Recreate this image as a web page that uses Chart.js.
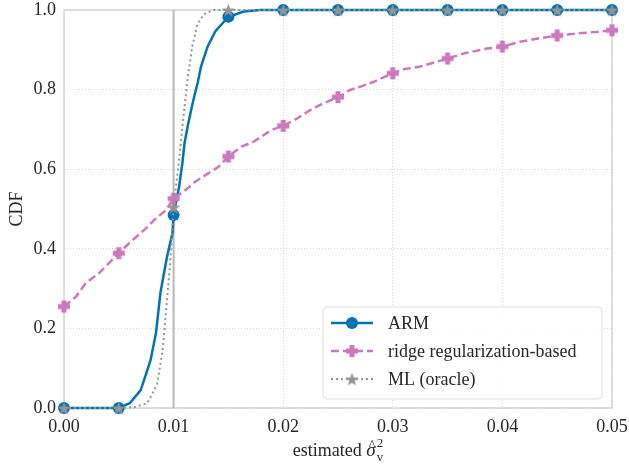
<!DOCTYPE html>
<html lang="en">
<head>
<meta charset="UTF-8">
<title>CDF</title>
<script src="https://cdn.jsdelivr.net/npm/chart.js@4.4.0/dist/chart.umd.min.js"></script>
<style>
  body { margin: 0; background: #fff; }
</style>
</head>
<body>
<canvas id="chart" width="629" height="465"></canvas>
<script>
// ARM estimates (CDF)
const armX = [0, 0.005, 0.006, 0.007, 0.0079, 0.0084, 0.0088, 0.0094, 0.0099, 0.01, 0.0105, 0.0108, 0.011, 0.0113, 0.0116, 0.0119, 0.0122, 0.0125, 0.0131, 0.0138, 0.015, 0.0164, 0.0179, 0.02, 0.025, 0.03, 0.035, 0.04, 0.045, 0.05]
const armY = [0, 0, 0.012, 0.045, 0.12, 0.19, 0.29, 0.38, 0.44, 0.485, 0.556, 0.615, 0.666, 0.71, 0.749, 0.785, 0.817, 0.858, 0.908, 0.946, 0.983, 0.996, 1, 1, 1, 1, 1, 1, 1, 1]

// ridge regularization-based
const ridgeX = [0, 0.0011, 0.002, 0.0032, 0.0041, 0.005, 0.00625, 0.0075, 0.0084, 0.0093, 0.01, 0.0111, 0.012, 0.0129, 0.0141, 0.015, 0.0162, 0.0173, 0.0189, 0.02, 0.0213, 0.0225, 0.0237, 0.025, 0.0261, 0.027, 0.0283, 0.03, 0.031, 0.0325, 0.035, 0.0365, 0.0386, 0.04, 0.0416, 0.0434, 0.045, 0.0468, 0.0486, 0.05]
const ridgeY = [0.255, 0.28, 0.314, 0.339, 0.364, 0.389, 0.422, 0.452, 0.477, 0.497, 0.526, 0.548, 0.569, 0.585, 0.606, 0.632, 0.657, 0.669, 0.698, 0.709, 0.728, 0.749, 0.766, 0.781, 0.799, 0.807, 0.82, 0.841, 0.851, 0.858, 0.878, 0.891, 0.903, 0.908, 0.92, 0.929, 0.936, 0.941, 0.945, 0.949]

// ML (oracle)
const mlX = [0, 0.005, 0.0064, 0.0076, 0.0085, 0.009, 0.0094, 0.0097, 0.01, 0.0105, 0.0108, 0.0113, 0.0117, 0.0122, 0.0128, 0.0137, 0.015, 0.02, 0.025, 0.03, 0.035, 0.04, 0.045, 0.05]
const mlY = [0, 0, 0.002, 0.012, 0.06, 0.145, 0.27, 0.37, 0.505, 0.623, 0.707, 0.833, 0.908, 0.966, 0.99, 1, 1, 1, 1, 1, 1, 1, 1, 1]

const xTicks = [0, 0.01, 0.02, 0.03, 0.04, 0.05]
const yTicks = [0, 0.2, 0.4, 0.6, 0.8, 1.0]
const trueValue = 0.01

const BLUE = '#0173b2', PINK = '#cc78bc', GRAY = '#949494'
const TXT = '#262626'
const SERIF = '"Liberation Serif", "DejaVu Serif", serif'

function pts(xs, ys) { return xs.map((x, i) => ({x: x, y: ys[i]})) }
function onMarker(x) { let k = x / 0.005; return Math.abs(k - Math.round(k)) < 1e-6 }

// filled marker shapes like matplotlib's 'P' and '*'
function plusImg(size, arm, color) {
  let c = document.createElement('canvas'); c.width = c.height = size
  let g = c.getContext('2d'); g.fillStyle = color
  let m = (size - arm) / 2
  g.fillRect(m, 1, arm, size - 2); g.fillRect(1, m, size - 2, arm)
  return c
}
function starImg(size, color) {
  let c = document.createElement('canvas'); c.width = c.height = size
  let g = c.getContext('2d'); g.fillStyle = color
  let cx = size / 2, cy = size / 2 + 0.8, ro = size / 2 - 0.5, ri = ro * 0.42
  g.beginPath()
  for (let i = 0; i < 10; i++) {
    let r = i % 2 ? ri : ro, a = -Math.PI / 2 + i * Math.PI / 5
    g.lineTo(cx + r * Math.cos(a), cy + r * Math.sin(a))
  }
  g.closePath(); g.fill()
  return c
}
const plusMark = plusImg(14, 5, PINK)
const starMark = starImg(15, GRAY)

const frame = {
  id: 'frame',
  beforeDatasetsDraw(chart) {
    let {ctx, chartArea: a, scales} = chart
    ctx.save()
    ctx.strokeStyle = '#cccccc'; ctx.lineWidth = 1.25
    ctx.strokeRect(a.left, a.top, a.right - a.left, a.bottom - a.top)
    let xv = scales.x.getPixelForValue(trueValue)
    ctx.strokeStyle = '#b8b8b8'; ctx.lineWidth = 2
    ctx.beginPath(); ctx.moveTo(xv, a.top); ctx.lineTo(xv, a.bottom); ctx.stroke()
    ctx.restore()
  },
  afterDraw(chart) {
    let {ctx, chartArea: a} = chart
    ctx.save()
    // y title
    ctx.fillStyle = TXT
    ctx.font = '18px ' + SERIF
    ctx.textAlign = 'center'; ctx.textBaseline = 'middle'
    ctx.translate(17, (a.top + a.bottom) / 2); ctx.rotate(-Math.PI / 2)
    ctx.fillText('CDF', 0, 0)
    ctx.restore()

    // x title: estimated sigma-hat^2_v
    ctx.save()
    ctx.fillStyle = TXT; ctx.textBaseline = 'alphabetic'; ctx.textAlign = 'left'
    let base = 456
    ctx.font = '18px ' + SERIF
    let t1 = 'estimated '
    let w1 = ctx.measureText(t1).width
    ctx.font = 'italic 19px ' + SERIF
    let w2 = ctx.measureText('σ').width
    ctx.font = '13px ' + SERIF
    let w3 = Math.max(ctx.measureText('2').width, ctx.measureText('v').width)
    let x0 = (a.left + a.right) / 2 - (w1 + w2 + w3 + 1) / 2
    ctx.font = '18px ' + SERIF
    ctx.fillText(t1, x0, base)
    ctx.font = 'italic 19px ' + SERIF
    ctx.fillText('σ', x0 + w1, base)
    ctx.font = '14px ' + SERIF
    ctx.textAlign = 'center'
    ctx.fillText('^', x0 + w1 + w2 / 2 + 1, base - 6)
    ctx.textAlign = 'left'
    ctx.font = '13px ' + SERIF
    ctx.fillText('2', x0 + w1 + w2 + 1, base - 9)
    ctx.fillText('v', x0 + w1 + w2 + 1, base + 5)
    ctx.restore()

    // legend
    ctx.save()
    let lx = 323, ly = 307, lw = 279, lh = 92
    ctx.beginPath(); ctx.roundRect(lx, ly, lw, lh, 4)
    ctx.fillStyle = 'rgba(255,255,255,0.85)'; ctx.fill()
    ctx.strokeStyle = '#dddddd'; ctx.lineWidth = 1; ctx.stroke()
    chart.data.datasets.forEach((ds, i) => {
      let y = 323 + i * 28
      ctx.save()
      ctx.strokeStyle = ds.borderColor; ctx.lineWidth = ds.borderWidth
      ctx.setLineDash(ds.borderDash || [])
      ctx.beginPath(); ctx.moveTo(331, y); ctx.lineTo(373, y); ctx.stroke()
      ctx.restore()
      let mk = ds.legendMark
      if (mk === 'circle') {
        ctx.fillStyle = ds.borderColor
        ctx.beginPath(); ctx.arc(352, y, 6, 0, Math.PI * 2); ctx.fill()
      } else {
        ctx.drawImage(mk, 352 - mk.width / 2, y - mk.height / 2)
      }
      ctx.fillStyle = TXT; ctx.font = '18px ' + SERIF
      ctx.textBaseline = 'middle'; ctx.textAlign = 'left'
      ctx.fillText(ds.label, 388, y + 1)
    })
    ctx.restore()
  }
}

let ctx = document.getElementById('chart')
let chart = new Chart(ctx, {
  type: 'line',
  data: {
    datasets: [
      {
        label: 'ARM',
        data: pts(armX, armY),
        borderColor: BLUE, backgroundColor: BLUE, borderWidth: 2.5,
        pointStyle: 'circle',
        pointRadius: c => onMarker(c.raw.x) ? 6 : 0,
        pointBorderWidth: 0,
        legendMark: 'circle',
        order: 2, clip: false
      },
      {
        label: 'ridge regularization-based',
        data: pts(ridgeX, ridgeY),
        borderColor: PINK, backgroundColor: PINK, borderWidth: 2.5,
        borderDash: [8, 4],
        pointStyle: plusMark,
        pointRadius: c => onMarker(c.raw.x) ? 6 : 0,
        legendMark: plusMark,
        order: 1, clip: false
      },
      {
        label: 'ML (oracle)',
        data: pts(mlX, mlY),
        borderColor: GRAY, backgroundColor: GRAY, borderWidth: 2,
        borderDash: [2, 3],
        pointStyle: starMark,
        pointRadius: c => onMarker(c.raw.x) ? 6 : 0,
        legendMark: starMark,
        order: 0, clip: false
      }
    ]
  },
  options: {
    responsive: false,
    devicePixelRatio: 1,
    animation: false,
    layout: { padding: { top: 10, right: 17, left: 0, bottom: 0 } },
    plugins: { legend: { display: false }, tooltip: { enabled: false } },
    elements: { line: { tension: 0 } },
    scales: {
      x: {
        type: 'linear', min: 0, max: 0.05,
        afterBuildTicks: s => { s.ticks = xTicks.map(v => ({value: v})) },
        afterFit: s => { s.height = 57; s.paddingLeft = 0; s.paddingRight = 0 },
        ticks: { callback: v => v.toFixed(2), color: TXT, font: { family: SERIF, size: 18 }, padding: 8, maxRotation: 0 },
        grid: { color: '#d9d9d9', lineWidth: 1, drawTicks: false },
        border: { display: false, dash: [1, 2] }
      },
      y: {
        min: 0, max: 1,
        afterBuildTicks: s => { s.ticks = yTicks.map(v => ({value: v})) },
        afterFit: s => { s.width = 64; s.paddingTop = 0; s.paddingBottom = 0 },
        ticks: { callback: v => v.toFixed(1), color: TXT, font: { family: SERIF, size: 18 }, padding: 8 },
        grid: { color: '#d9d9d9', lineWidth: 1, drawTicks: false },
        border: { display: false, dash: [1, 2] }
      }
    }
  },
  plugins: [frame]
})
</script>
</body>
</html>
